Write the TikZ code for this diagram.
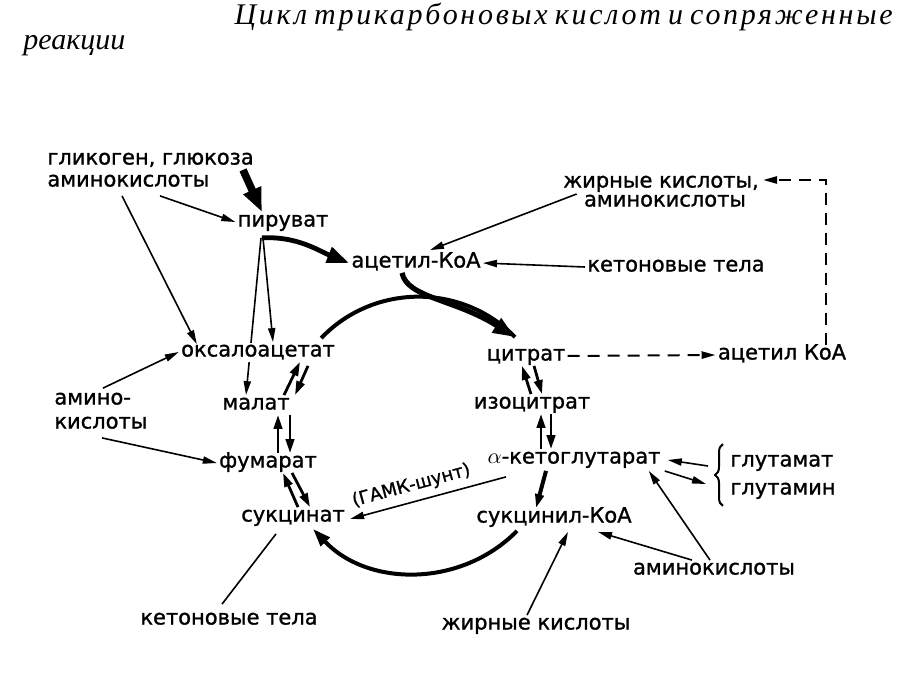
\documentclass[tikz,border=0pt]{standalone}
\usepackage{fontspec}
\setmainfont{DejaVu Sans}[FakeBold=1.2]
\newfontfamily\titlefont{Liberation Serif}
\newfontfamily\titlefontwide{Liberation Serif}[LetterSpace=9]
\usetikzlibrary{
    arrows.meta,
    positioning,
    decorations.pathreplacing
}
\pgfdeclarelayer{background}
\pgfsetlayers{background,main}
\tikzset{
    term/.style={
        inner sep=1pt,
        text height=6pt,
        text depth=1.5pt,
        font=\fontsize{10.5}{12}\selectfont
    },
    titletext/.style={
        inner sep=0pt,
        font=\titlefont\itshape\fontsize{15}{18}\selectfont
    },
    arrow/.style={
        -{Triangle[length=7pt,width=3.6pt]},
        line width=0.8pt
    },
    eqarrow/.style={
        -{Triangle[length=7pt,width=4.2pt]},
        line width=1.4pt
    },
    fatarrow/.style={
        -{Triangle[length=11pt,width=8pt]},
        line width=3pt
    },
    cyclearc/.style={
        line width=2pt
    },
    dasharrow/.style={
        -{Triangle[length=7pt,width=3.6pt]},
        line width=1pt,
        dash pattern=on 6pt off 4pt
    }
}

\begin{document}
\begin{tikzpicture}[x=0.5pt,y=-0.5pt]
\useasboundingbox (0,0) rectangle (898,674);
\begin{pgfonlayer}{background}
\fill[white] (0,0) rectangle (898,674);
\end{pgfonlayer}

% title
\node[titletext, font=\titlefontwide\itshape\fontsize{15}{18}\selectfont, anchor=base east] (title) at (893,25) {\makebox[329pt][s]{Цикл трикарбоновых кислот и сопряженные}};
\node[titletext, anchor=base west] (title2) at (23,50) {реакции};

% sources
\node[term, anchor=west] (glycogen) at (45,160) {гликоген, глюкоза};
\node[term, anchor=west] (aminoA) at (45,182) {аминокислоты};
\node[term] (fattyA) at (661,183) {жирные кислоты,};
\node[term] (aminoB) at (665,202) {аминокислоты};
\node[term] (ketoA) at (676,267) {кетоновые тела};
\node[term, anchor=west] (aminoC1) at (52,400) {амино-};
\node[term, anchor=west] (aminoC2) at (52,424) {кислоты};
\node[term, anchor=west] (glutamat) at (728,462) {глутамат};
\node[term, anchor=west] (glutamin) at (728,490) {глутамин};
\node[term] (aminoD) at (714,570) {аминокислоты};
\node[term] (ketoB) at (229,620) {кетоновые тела};
\node[term] (fattyB) at (536,625) {жирные кислоты};

% cycle
\node[term] (pyruvate) at (283,222) {пируват};
\node[term] (acetyl) at (416,263) {ацетил-КоА};
\node[term, fill=white] (oxalo) at (258,352) {оксалоацетат};
\node[term] (citrate) at (526,356) {цитрат};
\node[term] (acetylB) at (782,355) {ацетил КоА};
\node[term] (malate) at (256,405) {малат};
\node[term] (isocitrate) at (532,404) {изоцитрат};
\node[term] (fumarate) at (268,463) {фумарат};
\node[term] (ketoglut) at (574,459) {$\alpha$-кетоглутарат};
\node[term] (succinate) at (293,517) {сукцинат};
\node[term] (succinylcoa) at (554,518) {сукцинил-КоА};

% inputs
\draw[fatarrow, line width=3.8pt, -{Triangle[length=12pt,width=9pt]}] ([shift={(198,0)}]glycogen.south west) -- ([shift={(-21,0)}]pyruvate.north);
\draw[arrow] ([shift={(115,4)}]aminoA.south west) -- (pyruvate.west);
\draw[arrow] ([shift={(77,4)}]aminoA.south west) -- ([shift={(18,2)}]oxalo.north west);
\draw[fatarrow, line width=2.4pt] ([shift={(-21,6)}]pyruvate.south) .. controls +(35,-2) and +(-30,-12) .. (acetyl.west);
\draw[arrow] ([shift={(-20,6)}]pyruvate.south) -- ([shift={(15,0)}]oxalo.north);
\begin{pgfonlayer}{background}
\draw[arrow] ([shift={(-22,6)}]pyruvate.south) -- ([shift={(-10,0)}]malate.north);
\end{pgfonlayer}
\draw[arrow] ([shift={(-5,-8)}]aminoB.west) -- ([shift={(14,-3)}]acetyl.north);
\draw[arrow] (ketoA.west) -- (acetyl.east);
\draw[fatarrow, line width=2.6pt] ([shift={(-14,0)}]acetyl.south) .. controls +(5,25) and +(-60,-38) .. ([shift={(-11,-9)}]citrate.north);
\draw[dasharrow] (citrate.east) -- (acetylB.west);
\draw[dasharrow] ([shift={(44,0)}]acetylB.north) |- ([shift={(2,-3)}]fattyA.east);
\draw[arrow] ([shift={(51,-2)}]aminoC1.north west) -- (oxalo.west);
\draw[arrow] ([shift={(50,4)}]aminoC2.south west) -- (fumarate.west);

% cycle steps
\draw[cyclearc] ([shift={(-16,-4)}]oxalo.north east) to[bend left=46] ([shift={(-11,-9)}]citrate.north);
\draw[eqarrow] ([shift={(-1,0)}]isocitrate.north) -- ([shift={(-4,0)}]citrate.south);
\draw[eqarrow] ([shift={(8,0)}]citrate.south) -- ([shift={(10,0)}]isocitrate.north);
\draw[eqarrow] ([shift={(-33,0)}]ketoglut.north) -- ([shift={(9,0)}]isocitrate.south);
\draw[eqarrow] ([shift={(19,0)}]isocitrate.south) -- ([shift={(-23,0)}]ketoglut.north);
\draw[eqarrow, line width=2pt] ([shift={(-28,2)}]ketoglut.south) -- ([shift={(-18,0)}]succinylcoa.north);
\draw[arrow] ([shift={(-68,8)}]ketoglut.south) -- ([shift={(3,2)}]succinate.east)
    node[pos=0.58, sloped, above=0pt, font=\fontsize{9}{11}\selectfont] (shunt) {(ГАМК-шунт)};
\draw[cyclearc, -{Triangle[length=9pt,width=6pt]}] ([shift={(-37,3)}]succinylcoa.south) to[bend left=46] ([shift={(20,2)}]succinate.south);
\draw[eqarrow] ([shift={(5,0)}]succinate.north) -- ([shift={(15,0)}]fumarate.south);
\draw[eqarrow] ([shift={(24,0)}]fumarate.south) -- ([shift={(17,0)}]succinate.north);
\draw[eqarrow] ([shift={(10,0)}]fumarate.north) -- ([shift={(22,0)}]malate.south);
\draw[eqarrow] ([shift={(34,0)}]malate.south) -- ([shift={(22,0)}]fumarate.north);
\draw[eqarrow] ([shift={(28,0)}]malate.north) -- ([shift={(42,0)}]oxalo.south);
\draw[eqarrow] ([shift={(50,4)}]oxalo.south) -- ([shift={(39,0)}]malate.north);

% side reactions
\draw[line width=1pt, decorate, decoration={brace,amplitude=4pt}] ([shift={(-5,6)}]glutamin.south west) -- ([shift={(-5,-8)}]glutamat.north west);
\draw[arrow] ([shift={(-20,4)}]glutamat.west) -- ([shift={(5,1)}]ketoglut.east);
\draw[arrow] ([shift={(2,12)}]ketoglut.east) -- ([shift={(-22,-6)}]glutamin.west);
\draw[arrow] ([shift={(-4,0)}]aminoD.north) -- ([shift={(-14,2)}]ketoglut.south east);
\draw[arrow] ([shift={(-22,0)}]aminoD.north) -- ([shift={(44,4)}]succinylcoa.south);
\draw[arrow] ([shift={(-9,0)}]fattyB.north) -- ([shift={(14,4)}]succinylcoa.south);
\draw[line width=0.8pt] ([shift={(-17,7)}]succinate.south) -- ([shift={(-7,-6)}]ketoB.north);
\end{tikzpicture}
\end{document}
